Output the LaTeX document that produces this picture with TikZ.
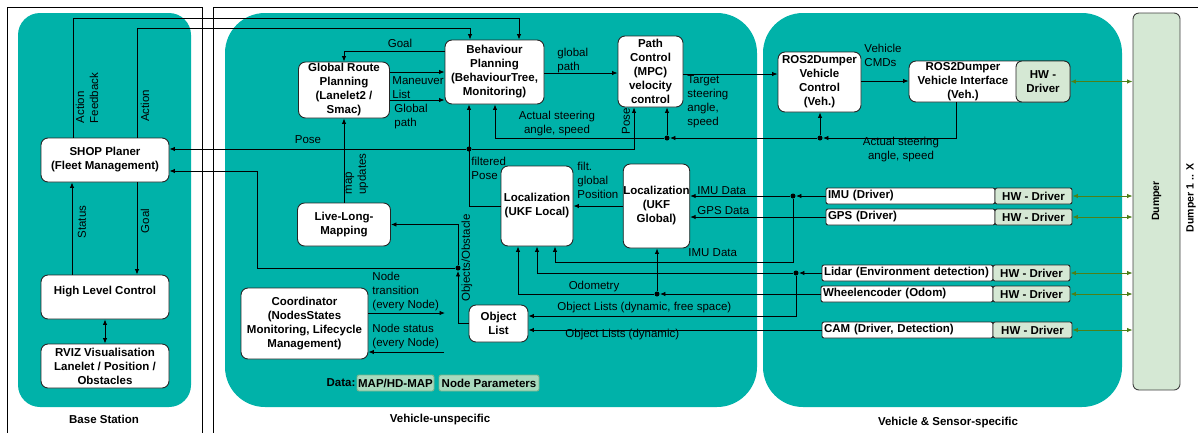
\documentclass[tikz,border=0pt]{standalone}
\usepackage{fontspec}
\setmainfont{Liberation Sans}
\usetikzlibrary{arrows.meta}

\definecolor{tealbg}{HTML}{00B2A9}
\definecolor{hwgreen}{HTML}{D5E8D4}
\definecolor{datagreen}{RGB}{168,218,190}
\definecolor{datadraw}{RGB}{120,180,140}
\definecolor{linkgreen}{HTML}{4D8019}
\newcommand{\dfont}{\fontsize{11.5}{14}\selectfont}

\begin{document}
\begin{tikzpicture}[x=1pt,y=1pt,line width=0.9pt,>={Latex[length=5.5pt,width=4.5pt]}]
	\tikzstyle{every node}+=[inner sep=0pt,font=\dfont]
	\tikzstyle{block}=[draw=black!85,fill=white,rounded corners=7pt,align=center,font=\dfont\bfseries]
	\tikzstyle{hwdriver}=[draw=black!85,fill=hwgreen,rounded corners=2pt,align=center,font=\dfont\bfseries]
	\tikzstyle{sensor}=[draw=black!85,fill=white,rounded corners=2pt,minimum height=16pt,inner xsep=2pt,align=left,font=\dfont\bfseries]
	\tikzstyle{datafile}=[draw=datadraw,fill=datagreen,rounded corners=2pt,minimum height=16pt,font=\dfont\bfseries]
	\tikzstyle{junction}=[circle,fill=black,minimum size=5pt]
	\tikzstyle{hwlink}=[linkgreen,<->]
	\useasboundingbox (0,0) rectangle (1198,-432);
	% frames and areas
	\draw [black,line width=0.8pt] (7,-433) -- (7,-7) -- (202,-7) -- (202,-433);
	\draw [black,line width=0.8pt] (213,-433) -- (213,-7) -- (1199,-7);
	\fill [tealbg,rounded corners=22pt] (18,-13) rectangle (191,-407);
	\fill [tealbg,rounded corners=40pt] (225,-13) rectangle (757,-407);
	\fill [tealbg,rounded corners=40pt] (763,-13) rectangle (1122,-407);
	\node [font=\dfont\bfseries] (basetitle) at (104,-419) {Base Station};
	\node [font=\dfont\bfseries] (unspectitle) at (440,-420) {Vehicle-unspecific};
	\node [font=\dfont\bfseries] (spectitle) at (948,-423) {Vehicle \& Sensor-specific};
	% base station
	\node [block,minimum width=128,minimum height=44] (shop) at (105,-160) {SHOP Planer\\(Fleet Management)};
	\node [block,minimum width=128,minimum height=44] (hlc) at (105,-297) {High Level Control\\~};
	\node [block,minimum width=128,minimum height=44] (rviz) at (105,-366) {RVIZ Visualisation\\Lanelet / Position /\\Obstacles};
	% vehicle-unspecific
	\node [block,minimum width=91,minimum height=56] (grp) at (344,-90) {Global Route\\Planning\\(Lanelet2 /\\Smac)};
	\node [block,minimum width=99,minimum height=64] (bp) at (494.5,-72) {Behaviour\\Planning\\(BehaviourTree,\\Monitoring)};
	\node [block,minimum width=65,minimum height=71] (pc) at (650.5,-71.5) {Path\\Control\\(MPC)\\velocity\\control};
	\node [block,minimum width=93,minimum height=43] (llm) at (344,-224.5) {Live-Long-\\Mapping};
	\node [block,minimum width=72,minimum height=80] (lukf) at (537,-206) {Localization\\(UKF Local)};
	\node [block,minimum width=65,minimum height=84] (gukf) at (656.5,-206) {Localization\\(UKF\\Global)};
	\node [block,minimum width=59,minimum height=37] (objl) at (498.5,-323.5) {Object\\List};
	\node [block,minimum width=127,minimum height=71] (coord) at (304.5,-323.5) {Coordinator\\(NodesStates\\Monitoring, Lifecycle\\Management)};
	\node [font=\dfont\bfseries] (data) at (341,-383) {Data:};
	\node [datafile,minimum width=77] (hdmap) at (395.5,-383) {MAP/HD-MAP};
	\node [datafile,minimum width=100] (params) at (489,-383) {Node Parameters};
	% vehicle and sensor-specific
	\node [block,minimum width=83,minimum height=60] (vc) at (819.5,-82) {ROS2Dumper\\Vehicle\\Control\\(Veh.)};
	\node [block,minimum width=161,minimum height=41] (vi) at (989.5,-81.5) {};
	\node [hwdriver,rounded corners=6pt,minimum width=54,minimum height=41] (vihw) at (1043,-81.5) {HW -\\Driver};
	\node [font=\dfont\bfseries,align=center] (vitxt) at (963,-81.5) {ROS2Dumper\\Vehicle Interface\\(Veh.)};
	\node [sensor,text width=165] (imu) at (910.5,-196) {IMU (Driver)};
	\node [hwdriver,minimum width=77,minimum height=16] (imuhw) at (1033.5,-196) {HW - Driver};
	\node [sensor,text width=165] (gps) at (910.5,-217) {GPS (Driver)};
	\node [hwdriver,minimum width=77,minimum height=16] (gpshw) at (1033.5,-217) {HW - Driver};
	\node [sensor,text width=167] (lidar) at (907.5,-273) {Lidar (Environment detection)};
	\node [hwdriver,minimum width=77,minimum height=16] (lidarhw) at (1031.5,-273) {HW - Driver};
	\node [sensor,text width=168] (wheel) at (907,-294) {Wheelencoder (Odom)};
	\node [hwdriver,minimum width=77,minimum height=16] (wheelhw) at (1031.5,-294) {HW - Driver};
	\node [sensor,text width=167] (cam) at (907.5,-330) {CAM (Driver, Detection)};
	\node [hwdriver,minimum width=79,minimum height=16] (camhw) at (1032.5,-330) {HW - Driver};
	% dumper
	\node [draw=black!75,fill=hwgreen,rounded corners=6pt,minimum width=47,minimum height=377] (dumper) at (1156.5,-201.5) {};
	\node [rotate=90,font=\fontsize{10.5}{12}\selectfont\bfseries] (dumpertxt) at (1156.5,-201) {Dumper};
	\node [rotate=90,font=\fontsize{10.5}{12}\selectfont\bfseries] (fleet) at (1191,-198) {Dumper 1 .. X};
	% junctions
	\node [junction] (jpose) at (469,-149) {};
	\node [junction] (jobj) at (458,-268) {};
	\node [junction] (jvc) at (820,-138) {};
	\node [junction] (jpc) at (667,-138) {};
	\node [junction] (jimu) at (793,-196) {};
	\node [junction] (jlidar) at (796,-273) {};
	\node [junction] (jodo) at (657,-294) {};
	\coordinate (ntend) at (445,-313);
	\coordinate (nsend) at (444,-352);
	% base station links
	\draw [->] (hlc.north -| 72,0) -- (shop.south -| 72,0);
	\draw [->] (shop.south -| 137,0) -- (hlc.north -| 137,0);
	\draw [<->] (hlc) -- (rviz);
	\draw [->] (shop.north -| 73,0) -- (73,-18) -| (bp.north -| 519,0);
	\draw [->] (shop.north -| 137,0) -- (137,-28) -| (bp.north -| 470,0);
	% pose and objects
	\draw [->] (lukf.west) -| (bp.south -| jpose);
	\draw [->] (jpose) -- (shop.east |- jpose);
	\draw [->] (jpose) -| (pc.south -| 634,0);
	\draw [->] (objl.west) -| (jobj);
	\draw [->] (jobj) |- (llm.east);
	\draw [->] (jobj) -- (257,-268) |- (shop.east |- 0,-171);
	% planning chain
	\draw [->] (llm) -- (grp);
	\draw [->] (bp.west |- 0,-51) -| (grp.north);
	\draw [->] (grp.east |- 0,-72) -- (bp.west |- 0,-72);
	\draw [->] (grp.east |- 0,-100) -- (bp.west |- 0,-100);
	\draw [->] (bp.east |- 0,-73) -- (pc.west |- 0,-73);
	\draw [->] (pc.east |- 0,-74) -- (vc.west |- 0,-74);
	\draw [->] (vc.east |- 0,-81) -- (vi.west |- 0,-81);
	% actual steering feedback
	\draw [->] (vi.south -| 956,0) |- (jvc);
	\draw [->] (jvc) -- (vc.south -| jvc);
	\draw [->] (jvc) -- (jpc);
	\draw [->] (jpc) -- (pc.south -| jpc);
	\draw [->] (jpc) -| (bp.south -| 495,0);
	% sensors
	\draw [->] (gukf.west) -- (lukf.east);
	\draw [->] (imu.west) -- (jimu);
	\draw [->] (jimu) -- (gukf.east |- jimu);
	\draw [->] (jimu) -- (793,-262) -| (lukf.south -| 555,0);
	\draw [->] (gps.west) -- (gukf.east |- gps.west);
	\draw [->] (lidar.west) -- (jlidar);
	\draw [->] (jlidar) -| (lukf.south -| 537,0);
	\draw [->] (jlidar) -- (796,-316) -- (objl.east |- 0,-316);
	\draw [->] (wheel.west) -- (jodo);
	\draw [->] (jodo) -- (gukf.south -| jodo);
	\draw [->] (jodo) -| (lukf.south -| 518,0);
	\draw [->] (cam.west) -- (objl.east |- cam.west);
	% coordinator
	\draw [->] (coord.east |- ntend) -- (ntend);
	\draw [->] (nsend) -- (coord.east |- nsend);
	% hardware links
	\draw [hwlink] (vihw.east) -- (dumper.west |- vihw.east);
	\draw [hwlink] (imuhw.east) -- (dumper.west |- imuhw.east);
	\draw [hwlink] (gpshw.east) -- (dumper.west |- gpshw.east);
	\draw [hwlink] (lidarhw.east) -- (dumper.west |- lidarhw.east);
	\draw [hwlink] (wheelhw.east) -- (dumper.west |- wheelhw.east);
	\draw [hwlink] (camhw.east) -- (dumper.west |- camhw.east);
	% labels
	\node [rotate=90,align=left] (lfeedback) at (87,-98) {Action\\Feedback};
	\node [rotate=90] (laction) at (145,-106) {Action};
	\node [rotate=90] (lstatus) at (82,-222) {Status};
	\node [rotate=90] (lgoalhlc) at (145,-221) {Goal};
	\node (lgoal) at (400,-43) {Goal};
	\node [anchor=west,align=left] (lmaneuver) at (392,-88) {Maneuver\\List};
	\node [anchor=west,align=left] (lglobal) at (394,-117) {Global\\path};
	\node (lpose) at (308,-140) {Pose};
	\node [rotate=90,align=left] (lmap) at (357,-174) {map\\updates};
	\node [anchor=west,align=left] (lfiltered) at (471,-168) {filtered\\Pose};
	\node [anchor=west,align=left] (lpath) at (557,-61) {global\\path};
	\node [rotate=90] (lposepc) at (626,-121) {Pose};
	\node [align=center] (lsteer) at (557,-124) {Actual steering\\angle, speed};
	\node [anchor=west,align=left] (ltarget) at (687,-102) {Target\\steering\\angle,\\speed};
	\node [anchor=west,align=left] (lcmds) at (864,-55) {Vehicle\\CMDs};
	\node [align=center] (lsteerveh) at (901,-150) {Actual steering\\angle, speed};
	\node [anchor=west,align=left] (lfilt) at (577,-180) {filt.\\global\\Position};
	\node [anchor=west] (limu) at (697,-191) {IMU Data};
	\node [anchor=west] (lgps) at (697,-211) {GPS Data};
	\node [anchor=west] (limulow) at (688,-253) {IMU Data};
	\node (lodo) at (594,-287) {Odometry};
	\node [anchor=west] (lfree) at (557,-308) {Object Lists (dynamic, free space)};
	\node [anchor=west] (ldyn) at (565,-335) {Object Lists (dynamic)};
	\node [rotate=90] (lobst) at (467,-258) {Objects/Obstacle};
	\node [anchor=west,align=left] (ltrans) at (372,-292) {Node\\transition\\(every Node)};
	\node [anchor=west,align=left] (lnstat) at (372,-337) {Node status\\(every Node)};
\end{tikzpicture}
\end{document}
